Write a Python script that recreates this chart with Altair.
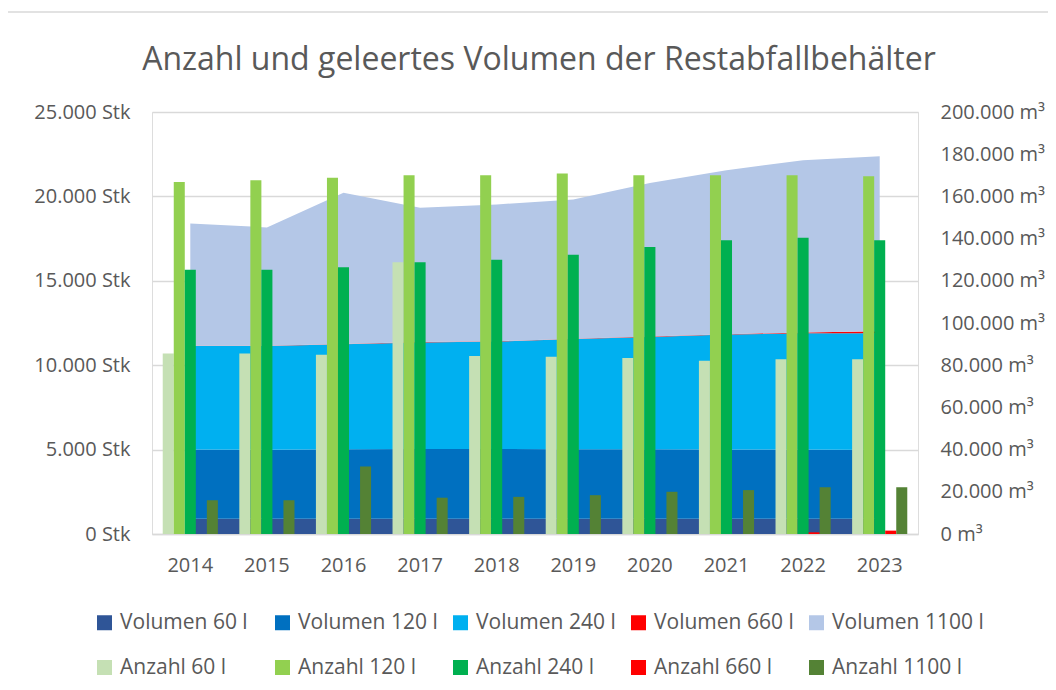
import altair as alt
import pandas as pd

FONT = "Open Sans"
TXT = "#595959"
GRID = "#D9D9D9"

years = ["2014", "2015", "2016", "2017", "2018", "2019", "2020", "2021", "2022", "2023"]
sizes = ["60 l", "120 l", "240 l", "660 l", "1100 l"]

# Anzahl der Behälter (Stk, linke Achse)
anzahl_60 = [10700, 10700, 10620, 16100, 10550, 10500, 10430, 10270, 10350, 10350]
anzahl_120 = [20850, 20950, 21100, 21250, 21250, 21350, 21250, 21250, 21250, 21200]
anzahl_240 = [15650, 15650, 15800, 16100, 16250, 16550, 17000, 17400, 17550, 17400]
anzahl_660 = [0, 0, 0, 0, 0, 0, 0, 0, 100, 200]
anzahl_1100 = [2000, 2000, 4000, 2150, 2200, 2300, 2500, 2600, 2770, 2770]

# Geleertes Volumen (m³, rechte Achse)
vol_60 = [7200, 7200, 7200, 7200, 7200, 7200, 7200, 7200, 7200, 7200]
vol_120 = [32800, 32700, 33000, 33100, 33100, 33000, 33000, 32900, 32800, 32600]
vol_240 = [49100, 49200, 49700, 50500, 50900, 52200, 53200, 54400, 55100, 55400]
vol_660 = [100, 100, 100, 150, 150, 150, 150, 200, 400, 900]
vol_1100 = [58000, 56100, 71700, 63650, 64850, 66000, 72850, 77700, 81650, 82950]

vol_colors = ["#2F5597", "#0070C0", "#00B0F0", "#FF0000", "#B4C7E7"]
anz_colors = ["#C5E0B4", "#92D050", "#00B050", "#FF0000", "#548235"]

anz_lists = [anzahl_60, anzahl_120, anzahl_240, anzahl_660, anzahl_1100]
vol_lists = [vol_60, vol_120, vol_240, vol_660, vol_1100]

vol_names = ["Volumen " + s for s in sizes]
anz_names = ["Anzahl " + s for s in sizes]

rows_a, rows_v = [], []
for i, y in enumerate(years):
    for j in range(len(sizes)):
        rows_a.append({"Jahr": y, "Serie": anz_names[j], "idx": j, "Wert": anz_lists[j][i]})
        rows_v.append({"Jahr": y, "Serie": vol_names[j], "idx": j, "Wert": vol_lists[j][i]})
df_a = pd.DataFrame(rows_a)
df_v = pd.DataFrame(rows_v)

color = alt.Color(
    "Serie:N",
    scale=alt.Scale(domain=vol_names + anz_names, range=vol_colors + anz_colors),
    title=None,
    legend=alt.Legend(
        orient="none", legendX=-58, legendY=500, direction="horizontal", columns=5,
        gridAlign="all",
        symbolType="square", symbolSize=225, symbolStrokeWidth=0,
        labelFontSize=21, labelFont=FONT, labelColor=TXT, labelOffset=5,
        columnPadding=0, rowPadding=23, labelLimit=400, padding=0,
    ),
)

x = alt.X(
    "Jahr:N",
    sort=years,
    scale=alt.Scale(paddingInner=0.28, paddingOuter=0.14),
    axis=alt.Axis(
        title=None, labelAngle=0, ticks=False, grid=False,
        domainColor=GRID, domainWidth=1.5,
        labelFontSize=20, labelFont=FONT, labelColor=TXT, labelPadding=21,
    ),
)

area = alt.Chart(df_v).mark_area(opacity=1).encode(
    x=x,
    y=alt.Y(
        "Wert:Q", stack="zero",
        scale=alt.Scale(domain=[0, 200000], nice=False),
        axis=alt.Axis(
            orient="right", title=None, grid=False, domain=False, ticks=False,
            values=list(range(0, 200001, 20000)),
            labelExpr="replace(format(datum.value, ','), ',', '.') + ' m³'",
            labelFontSize=20, labelFont=FONT, labelColor=TXT, labelPadding=22,
        ),
    ),
    color=color,
    order=alt.Order("idx:Q", sort="ascending"),
)

bars = alt.Chart(df_a).mark_bar(opacity=1).encode(
    x=x,
    xOffset=alt.XOffset("Serie:N", sort=anz_names, scale=alt.Scale(paddingInner=0, paddingOuter=0)),
    y=alt.Y(
        "Wert:Q",
        scale=alt.Scale(domain=[0, 25000], nice=False),
        axis=alt.Axis(
            orient="left", title=None, grid=True, gridColor=GRID, gridWidth=1.3,
            domain=False, ticks=False,
            values=list(range(0, 25001, 5000)),
            labelExpr="replace(format(datum.value, ','), ',', '.') + ' Stk'",
            labelFontSize=20, labelFont=FONT, labelColor=TXT, labelPadding=22,
        ),
    ),
    color=color,
)

border = alt.Chart(pd.DataFrame({"a": [0]})).mark_rect(
    fill="transparent", stroke=GRID, strokeWidth=1.5
).encode(
    x=alt.value(-147), x2=alt.value(905), y=alt.value(-100), y2=alt.value(600)
)

chart = (
    alt.layer(area, bars, border)
    .resolve_scale(y="independent")
    .properties(
        width=766,
        height=422,
        title=alt.TitleParams(
            "Anzahl und geleertes Volumen der Restabfallbehälter",
            fontSize=32, font=FONT, fontWeight="normal", color=TXT,
            anchor="middle", offset=-66, dx=4,
        ),
        autosize=alt.AutoSizeParams(type="none"),
        padding={"left": 144, "top": 104, "right": 130, "bottom": 148},
    )
    .configure_view(stroke=None)
    .configure(font=FONT)
)

chart.save("out.html", embed_options={"renderer": "svg", "actions": False})
